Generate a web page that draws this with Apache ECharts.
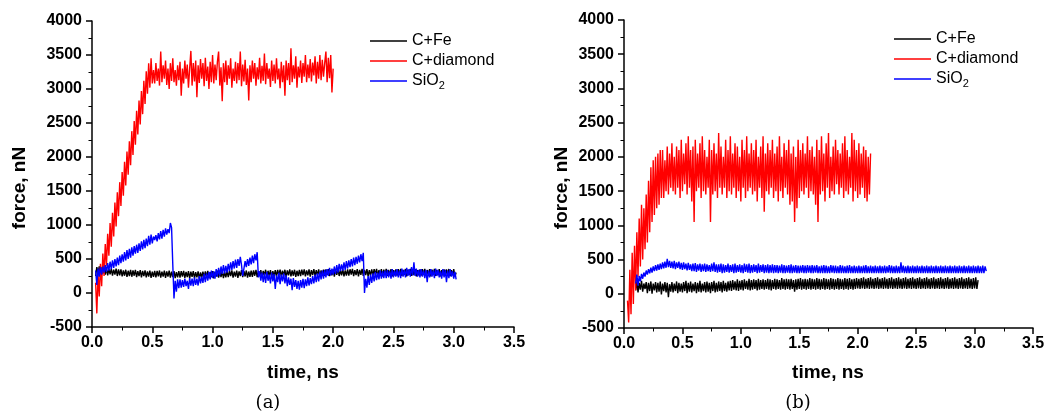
<!DOCTYPE html>
<html><head><meta charset="utf-8">
<script src="https://cdn.jsdelivr.net/npm/echarts@6/dist/echarts.min.js"></script>
<style>html,body{margin:0;padding:0;background:#fff}#c{width:1045px;height:412px}</style>
</head><body><div id="c"></div>
<script>
// ---------- labels ----------
const seriesNames = ['C+Fe', 'C+diamond', 'SiO2'];
const seriesColors = ['#000000', '#ff0000', '#0000ff'];
const panelCaptions = ['(a)', '(b)'];
const xAxisTitle = 'time, ns';
const yAxisTitle = 'force, nN';
const xTickMin = 0, xTickMax = 3.5, xTickStep = 0.5;
const yTickMin = -500, yTickMax = 4000, yTickStep = 500;

// ---------- data (force in nN, sampled every 0.01 ns from the start time) ----------
const sampleStep = 0.01;

// panel (a)
const feAStart = 0.03;
const feA = [
250,380,290,390,280,375,285,370,270,365,
260,355,275,360,255,343,269,357,250,347,
260,347,244,332,254,342,237,327,250,340,
239,334,254,339,234,322,248,336,229,326,
247,334,231,319,241,329,224,314,237,327,
231,326,246,331,226,314,240,328,221,318,
241,328,225,313,235,323,218,308,231,321,
226,321,241,326,221,309,235,323,216,313,
236,323,220,308,230,318,213,303,226,316,
224,319,239,324,219,307,233,321,214,311,
241,328,225,313,235,323,218,308,231,321,
232,327,247,332,227,315,241,329,222,319,
249,336,233,321,243,331,226,316,239,329,
239,334,254,339,234,322,248,336,229,326,
255,342,239,327,249,337,232,322,245,335,
245,340,260,345,240,328,254,342,235,332,
260,347,244,332,254,342,237,327,250,340,
249,344,264,349,244,332,258,346,239,336,
264,351,248,336,258,346,241,331,254,344,
252,347,267,352,247,335,261,349,242,339,
266,353,250,338,260,348,243,333,256,346,
254,349,269,354,249,337,263,351,244,341,
268,355,252,340,262,350,245,335,258,348,
255,350,270,355,250,338,264,352,245,342,
268,355,252,340,262,350,245,335,258,348,
256,351,271,356,251,339,265,353,246,343,
268,355,252,340,262,350,245,335,258,348,
255,350,270,355,250,338,264,352,245,342,
269,356,253,341,263,351,246,336,259,349,
253,348,268,353,248,336,262,350,243,300
];
const diamondAStart = 0.03;
const diamondA = [
150,-300,280,-50,430,100,580,250,720,400,
870,550,1030,680,1180,830,1330,980,1480,1130,
1630,1280,1780,1430,1930,1580,2080,1740,2230,1880,
2380,2030,2530,2180,2680,2330,2830,2480,2970,2630,
3120,2780,3260,2930,3380,3020,3450,3080,
3280,3080,3380,3120,3300,3050,3550,3100,3350,3150,
3420,3060,3300,3000,3380,3120,3450,3100,3280,3050,
3350,3130,3400,2900,3300,3080,3420,3150,3360,3020,
3300,3560,3050,3380,3110,3420,2880,3350,3090,3440,
3150,3380,3040,3460,3120,3330,3000,3400,3100,3500,
3080,3360,3130,3400,3550,3050,3320,2820,3380,3100,
3420,3060,3350,3150,3450,3020,3300,3120,3400,3080,
3380,3130,3550,3040,3360,3110,3430,3060,3300,2830,
3350,3100,3420,3150,3380,3050,3320,3140,3460,3080,
3340,3120,3520,3070,3380,3150,3300,3030,3420,3120,
3360,3080,3450,3140,3300,3010,3400,3100,3350,2900,
3420,3130,3380,3060,3600,3100,3350,3150,3480,3020,
3330,3170,3420,3090,3380,3180,3500,3100,3360,3160,
3440,3110,3390,3200,3480,3080,3400,3150,3500,3130,
3430,3180,3380,3550,3100,3460,3160,3500,2950,3300
];
const sio2AStart = 0.03;
const sio2A = [
330,120,360,240,380,270,390,300,410,310,
440,330,460,350,480,370,500,390,520,410,
550,440,570,460,600,480,630,500,650,520,
670,550,690,580,710,590,730,620,760,640,
780,660,800,690,840,710,860,730,830,780,
850,760,880,790,910,800,930,830,950,860,
940,880,1030,960,420,-80,180,20,200,70,
200,80,190,90,210,100,180,60,220,110,
210,100,230,120,210,110,250,140,240,150,
280,160,290,180,310,200,330,220,320,210,
350,240,370,260,390,280,410,290,400,300,
430,320,450,340,470,360,490,370,500,400,
530,410,250,360,470,380,500,400,520,420,
550,440,570,480,600,230,320,180,300,160,
290,150,310,180,270,140,300,170,280,60,
260,160,300,130,270,170,290,140,260,100,
230,120,210,40,220,90,190,60,180,50,
190,80,210,70,200,100,230,110,220,130,
250,140,270,160,290,170,310,200,330,210,
340,230,350,250,370,260,360,270,390,280,
410,300,430,320,420,330,450,340,470,360,
480,380,500,390,520,410,530,430,550,450,
570,470,590,0,210,80,250,120,270,150,
290,170,310,190,300,200,330,210,320,220,
330,220,340,230,320,210,350,230,330,240,
350,230,330,220,360,240,340,230,370,250,
350,240,380,260,450,250,360,240,340,230,
350,240,330,220,340,160,330,230,350,240,
330,220,360,250,340,230,320,210,350,230,
340,160,330,220,350,240,320,210,310,200
];

// panel (b)
const feBStart = 0.10;
const feB = [
50,180,20,160,60,190,30,150,70,170,
10,160,40,180,0,150,50,170,20,160,
30,180,-10,150,40,170,20,160,-50,140,
30,170,20,150,40,180,10,160,30,150,
20,170,40,190,10,160,30,180,20,150,
40,170,10,160,30,190,20,150,40,170,
20,180,30,160,10,170,40,190,20,160,
30,180,40,170,20,190,40,160,30,180,
50,190,40,200,60,180,50,210,40,190,
60,200,50,210,70,190,60,220,50,200,
60,210,70,200,50,220,60,200,70,210,
60,200,70,220,60,210,50,200,70,220,
60,210,70,200,60,230,70,210,60,220,
70,210,60,220,70,200,30,210,60,220,
70,230,60,210,70,220,60,210,70,230,
60,220,70,210,60,230,70,220,60,210,
70,230,60,220,70,210,60,230,70,220,
60,210,70,230,60,220,70,210,60,230,
70,220,60,230,70,210,60,220,70,230,
80,220,70,230,80,240,70,220,80,230,
70,240,80,220,70,230,80,240,70,220,
80,230,70,240,80,220,70,230,80,240,
70,220,80,230,70,240,80,220,70,230,
80,240,70,220,80,230,70,240,80,220,
70,230,80,240,70,220,80,230,70,240,
80,220,70,230,80,240,70,220,80,230,
70,240,80,220,70,230,80,240,70,220,
80,230,70,240,80,220,70,230,80,240,
70,220,80,230,70,240,80,220,70,230,
80,240,70,200
];
const diamondBStart = 0.03;
const diamondB = [
-100,-420,350,-300,600,-150,700,50,900,250,
1100,400,1300,500,1250,650,1450,750,1650,900,
1850,1050,1950,1150,2000,1250,2050,1300,2100,1400,
2100,1400,1950,1500,2150,1450,2050,1550,2200,1500,
2000,1450,2150,1550,2100,1400,2250,1500,2050,1600,
2200,1450,2300,1550,2100,1350,2150,1050,2250,1500,
2050,1550,2200,1400,2300,1500,2100,1450,2000,1550,
2250,1050,2100,1450,2200,1500,2050,1400,2350,1550,
2150,1450,2000,1550,2250,1400,2100,1500,2300,1450,
2050,1550,2200,1400,2150,1500,2000,1350,2250,1550,
2100,1400,2300,1500,2050,1550,2200,1450,2100,1500,
2250,1350,2000,1550,2150,1400,2300,1200,2050,1500,
2200,1450,2100,1550,2250,1400,2050,1500,2150,1350,
2300,1500,2000,1400,2200,1550,2100,1450,2250,1300,
2050,1350,2150,1050,2000,1250,2250,1400,2100,1500,
2200,1450,2050,1550,2300,1400,2100,1500,2150,1450,
2000,1300,2250,1050,2100,1450,2300,1500,2050,1350,
2200,1550,2350,1400,2000,1500,2150,1450,2250,1600,
2100,1450,2050,1550,2200,1400,2300,1500,2100,1450,
2000,1550,2350,1350,2250,1500,2100,1400,2200,1450,
2050,1550,2150,1400,2100,1350,2000,1450,2050
];
const sio2BStart = 0.10;
const sio2B = [
150,280,120,260,180,290,220,310,250,340,
280,360,300,380,310,400,330,420,340,430,
350,440,360,460,370,470,380,510,390,480,
380,470,370,480,360,460,380,470,360,450,
350,460,360,440,340,450,350,430,330,440,
330,450,320,430,340,440,320,430,330,440,
320,430,330,420,320,440,330,460,320,430,
310,430,320,440,300,430,310,420,320,440,
310,420,320,430,300,440,310,420,320,430,
310,420,300,440,320,430,310,440,300,420,
310,430,320,420,300,440,310,420,320,430,
300,420,310,430,300,420,310,430,300,420,
310,420,300,410,310,430,300,420,300,410,
310,420,300,430,300,410,310,420,300,410,
300,410,310,420,300,410,300,420,310,410,
300,420,300,410,310,420,300,400,300,410,
300,420,300,410,300,400,300,420,310,410,
300,410,300,400,300,420,300,410,300,400,
300,410,300,420,300,400,300,410,300,400,
300,410,300,400,300,410,300,420,300,400,
300,410,300,400,300,410,300,400,300,410,
300,400,300,410,300,400,310,420,300,410,
300,400,300,410,300,400,300,460,310,410,
300,400,300,410,300,400,300,410,300,400,
300,410,300,400,300,410,300,400,300,410,
300,400,300,410,300,400,300,410,300,400,
300,410,300,400,300,410,300,400,300,410,
300,400,300,410,300,400,300,410,300,400,
300,410,300,400,300,410,300,400,300,410,
300,400,300,410,300,400,300,410,300,400,330
];

// ---------- build ----------
function toPoints(start, vals) {
  return vals.map((v, i) => [Math.round((start + i * sampleStep) * 1000) / 1000, v]);
}
const panels = [
  [[feAStart, feA], [diamondAStart, diamondA], [sio2AStart, sio2A]],
  [[feBStart, feB], [diamondBStart, diamondB], [sio2BStart, sio2B]]
];

const font = 'Liberation Sans';
function xAxisFor(gi) {
  return {
    type: 'value', gridIndex: gi, min: xTickMin, max: xTickMax, interval: xTickStep,
    axisLine: { show: true, onZero: false, lineStyle: { color: '#000', width: 1.5 } },
    axisTick: { show: true, inside: false, length: 6, lineStyle: { color: '#000', width: 1.5 } },
    minorTick: { show: true, splitNumber: 2, length: 3.5, lineStyle: { color: '#000', width: 1 } },
    splitLine: { show: false },
    axisLabel: { margin: 8, color: '#000', fontWeight: 'bold', fontSize: 16, fontFamily: font,
      formatter: v => v.toFixed(1) }
  };
}
function yAxisFor(gi) {
  return {
    type: 'value', gridIndex: gi, min: yTickMin, max: yTickMax, interval: yTickStep,
    axisLine: { show: true, onZero: false, lineStyle: { color: '#000', width: 1.5 } },
    axisTick: { show: true, inside: false, length: 6, lineStyle: { color: '#000', width: 1.5 } },
    minorTick: { show: true, splitNumber: 2, length: 3.5, lineStyle: { color: '#000', width: 1 } },
    splitLine: { show: false },
    axisLabel: { margin: 10, color: '#000', fontWeight: 'bold', fontSize: 16, fontFamily: font,
      formatter: v => String(v) }
  };
}

const series = [];
panels.forEach((p, gi) => {
  p.forEach(([start, vals], si) => {
    series.push({
      name: seriesNames[si], type: 'line', xAxisIndex: gi, yAxisIndex: gi,
      data: toPoints(start, vals), symbol: 'none', showSymbol: false,
      lineStyle: { color: seriesColors[si], width: 1.4 }, itemStyle: { color: seriesColors[si] },
      z: 2 + si, silent: true
    });
  });
});

function legendAt(left, top) {
  return {
    orient: 'vertical', left: left, top: top, padding: 0, itemWidth: 37, itemHeight: 1.3, itemGap: 0,
    icon: 'rect', data: seriesNames, selectedMode: false,
    formatter: n => n === 'SiO2' ? 'SiO{sub|2}' : n,
    textStyle: { fontSize: 16, lineHeight: 20, fontFamily: font, color: '#000',
      rich: { sub: { fontSize: 11, lineHeight: 11, verticalAlign: 'bottom', fontFamily: font, color: '#000' } } }
  };
}

const titleFont = 'bold 19px "Liberation Sans"';
const capFont = '18px "DejaVu Serif"';
function txt(x, y, text, f, rot) {
  return { type: 'text', x: x, y: y, rotation: rot || 0, silent: true,
    style: { text: text, font: f, fill: '#000', textAlign: 'center', textVerticalAlign: 'middle' } };
}

const chart = echarts.init(document.getElementById('c'), null, { renderer: 'canvas' });
chart.setOption({
  animation: false,
  backgroundColor: '#fff',
  grid: [
    { left: 92, top: 21, width: 422, height: 306, outerBoundsMode: 'none' },
    { left: 624, top: 20, width: 409, height: 308, outerBoundsMode: 'none' }
  ],
  xAxis: [xAxisFor(0), xAxisFor(1)],
  yAxis: [yAxisFor(0), yAxisFor(1)],
  legend: [legendAt(370, 31), legendAt(894, 29)],
  series: series,
  graphic: [
    txt(20, 188, yAxisTitle, titleFont, Math.PI / 2),
    txt(562, 188, yAxisTitle, titleFont, Math.PI / 2),
    txt(303, 373, xAxisTitle, titleFont),
    txt(828, 373, xAxisTitle, titleFont),
    txt(268, 403, panelCaptions[0], capFont),
    txt(798, 403, panelCaptions[1], capFont)
  ]
});
</script>
</body></html>
